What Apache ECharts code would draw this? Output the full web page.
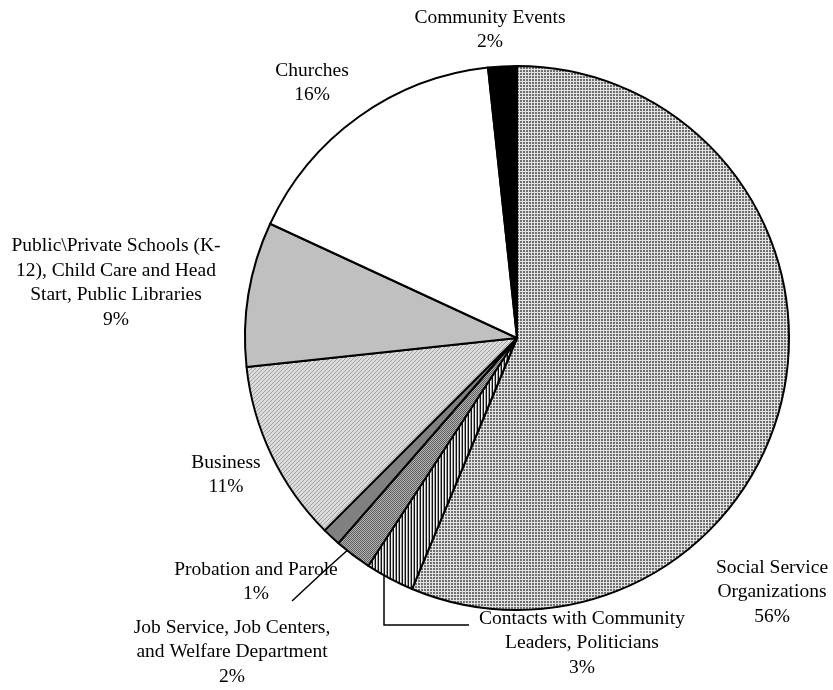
<!DOCTYPE html>
<html>
<head>
<meta charset="utf-8">
<script src="https://cdn.jsdelivr.net/npm/echarts@6/dist/echarts.min.js"></script>
<style>
html,body{margin:0;padding:0;background:#fff;}
#chart{width:833px;height:690px;}
</style>
</head>
<body>
<div id="chart"></div>
<script>
// ---- Data ----
const categories = [
  'Social Service\nOrganizations',
  'Contacts with Community\nLeaders, Politicians',
  'Job Service, Job Centers,\nand Welfare Department',
  'Probation and Parole',
  'Business',
  'Public\\Private Schools (K-\n12), Child Care and Head\nStart, Public Libraries',
  'Churches',
  'Community Events'
];
const values = [56.3, 2.9, 2.2, 1.1, 10.8, 8.6, 16.4, 1.7];

// ---- Layout (label placement, not data) ----
const labelCenters = [[772, 592], [582, 643], [232, 652], [256, 582], [226, 475], [116, 283], [312, 83], [490, 30]];
const leaderLines = {
  1: [[384, 562], [384, 625], [469, 625]],
  3: [[351, 547], [321, 574], [292, 601]]
};

// ---- Fill patterns ----
function makePattern(w, h, draw) {
  const c = document.createElement('canvas');
  c.width = w; c.height = h;
  const ctx = c.getContext('2d');
  draw(ctx);
  return { image: c, repeat: 'repeat' };
}
function px(ctx, x, y, col) { ctx.fillStyle = col; ctx.fillRect(x, y, 1, 1); }

const gridPattern = makePattern(3, 3, ctx => {
  ctx.fillStyle = '#6e6e6e'; ctx.fillRect(0, 0, 3, 3);
  ctx.fillStyle = '#e2e2e2'; ctx.fillRect(0, 0, 3, 1); ctx.fillRect(0, 0, 1, 3);
});
const vStripePattern = makePattern(3, 1, ctx => {
  px(ctx, 0, 0, '#111'); px(ctx, 1, 0, '#f4f4f4'); px(ctx, 2, 0, '#9a9a9a');
});
const dotPattern = makePattern(2, 2, ctx => {
  px(ctx, 0, 0, '#5e5e5e'); px(ctx, 1, 1, '#5e5e5e');
  px(ctx, 1, 0, '#b4b4b4'); px(ctx, 0, 1, '#b4b4b4');
});
const diagPattern = makePattern(4, 4, ctx => {
  ctx.fillStyle = '#dcdcdc'; ctx.fillRect(0, 0, 4, 4);
  for (let i = 0; i < 4; i++) px(ctx, i, 3 - i, '#a2a2a2');
});
const fills = [gridPattern, vStripePattern, dotPattern, '#808080', diagPattern, '#c0c0c0', '#ffffff', '#000000'];

const chart = echarts.init(document.getElementById('chart'), null, { renderer: 'canvas' });
const data = categories.map((name, i) => ({
  name: name,
  value: values[i],
  itemStyle: { color: fills[i] },
  labelLine: { show: !!leaderLines[i] }
}));

chart.setOption({
  backgroundColor: '#ffffff',
  animation: false,
  series: [{
    type: 'pie',
    center: [517, 338],
    radius: 272,
    startAngle: 90,
    clockwise: true,
    avoidLabelOverlap: false,
    percentPrecision: 0,
    itemStyle: { borderColor: '#000', borderWidth: 2 },
    label: {
      show: true,
      position: 'outside',
      formatter: '{b}\n{d}%',
      fontFamily: '"Liberation Serif", "Times New Roman", serif',
      fontSize: 19.5,
      lineHeight: 24.5,
      color: '#000',
      align: 'center'
    },
    labelLine: {
      show: true,
      length: 10,
      length2: 10,
      lineStyle: { color: '#000', width: 1.5 }
    },
    emphasis: { disabled: true },
    labelLayout: function (params) {
      const i = params.dataIndex;
      const res = {
        x: labelCenters[i][0],
        y: labelCenters[i][1],
        align: 'center',
        verticalAlign: 'middle'
      };
      if (leaderLines[i]) res.labelLinePoints = leaderLines[i];
      return res;
    },
    data: data
  }]
});
</script>
</body>
</html>
